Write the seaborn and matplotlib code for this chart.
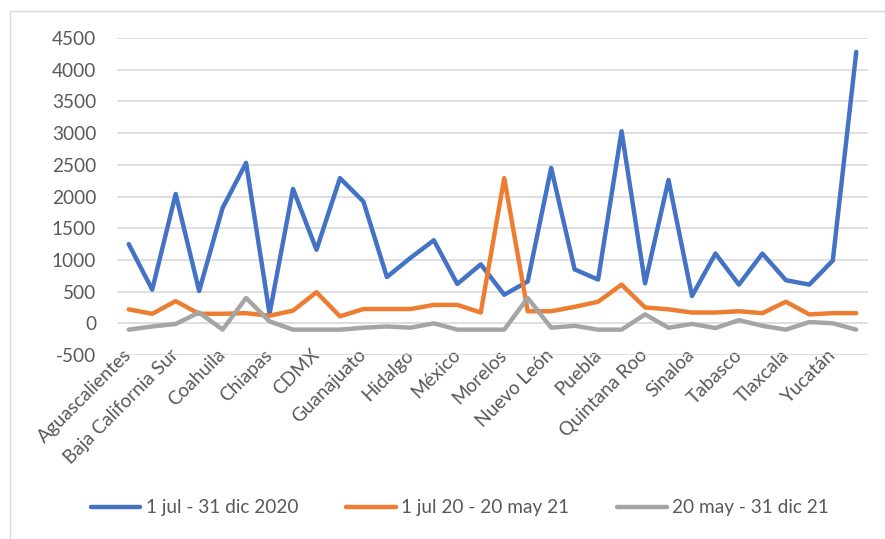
import matplotlib
matplotlib.use("Agg")
import matplotlib.pyplot as plt
from matplotlib.lines import Line2D
from matplotlib.patches import Rectangle
import seaborn as sns
import pandas as pd

states = ["Aguascalientes", "Baja California", "Baja California Sur", "Campeche",
          "Coahuila", "Colima", "Chiapas", "Chihuahua", "CDMX", "Durango",
          "Guanajuato", "Guerrero", "Hidalgo", "Jalisco", "México", "Michoacán",
          "Morelos", "Nayarit", "Nuevo León", "Oaxaca", "Puebla", "Querétaro",
          "Quintana Roo", "San Luis Potosí", "Sinaloa", "Sonora", "Tabasco",
          "Tamaulipas", "Tlaxcala", "Veracruz", "Yucatán", "Zacatecas"]

serie_2020 = [1250, 530, 2040, 510, 1820, 2530, 150, 2120, 1160, 2290,
              1920, 730, 1030, 1310, 620, 930, 450, 660, 2450, 850,
              690, 3030, 630, 2260, 430, 1100, 610, 1100, 680, 610,
              990, 4280]
serie_2021a = [220, 150, 350, 150, 150, 160, 120, 200, 490, 110,
               225, 225, 225, 290, 290, 170, 2290, 190, 190, 260,
               340, 610, 250, 220, 170, 170, 190, 160, 340, 140,
               160, 160]
serie_2021b = [-100, -50, -10, 170, -100, 400, 30, -100, -100, -100,
               -70, -50, -70, 0, -100, -100, -100, 400, -70, -40,
               -100, -100, 140, -70, -10, -75, 50, -40, -100, 20,
               0, -100]

series_names = ["1 jul - 31 dic 2020", "1 jul 20 - 20 may 21", "20 may - 31 dic 21"]
colors = ["#4472C4", "#ED7D31", "#A5A5A5"]
yticks = [-500, 0, 500, 1000, 1500, 2000, 2500, 3000, 3500, 4000, 4500]

df = pd.concat([
    pd.DataFrame({"estado": states, "valor": vals, "serie": name})
    for name, vals in zip(series_names, [serie_2020, serie_2021a, serie_2021b])
], ignore_index=True)

sns.set_theme(style="white")
plt.rcParams["font.family"] = ["Lato", "DejaVu Sans"]
fs = 13.7
tick_color = "#595959"

fig = plt.figure(figsize=(8.85, 5.39), dpi=100)
fig.patch.set_facecolor("white")
ax = fig.add_axes([117 / 885, 1 - 355 / 539, (868 - 117) / 885, (355 - 38) / 539])

sns.lineplot(data=df, x="estado", y="valor", hue="serie", palette=colors,
             sort=False, linewidth=3.2, legend=False, ax=ax)
for ln in ax.get_lines():
    ln.set_solid_capstyle("round")
    ln.set_solid_joinstyle("round")

ax.set_xlim(-0.5, len(states) - 0.5)
ax.set_ylim(-500, 4500)
ax.set_yticks(yticks)
ax.set_yticklabels([str(v) for v in yticks], fontsize=fs, color=tick_color)
ax.set_xticks(range(0, len(states), 2))
ax.set_xticklabels(states[::2], fontsize=fs, color=tick_color, rotation=45,
                   ha="right", va="center", rotation_mode="anchor")
ax.tick_params(axis="y", length=0, pad=15)
ax.tick_params(axis="x", length=0, pad=-2)
ax.set_xlabel("")
ax.set_ylabel("")
ax.yaxis.grid(True, color="#D9D9D9", linewidth=1.2)
ax.xaxis.grid(False)
ax.set_axisbelow(True)
for s in ax.spines.values():
    s.set_visible(False)

# outer chart border
fig.add_artist(Rectangle((9.5 / 885, -0.05), 1.2, 1 - 11 / 539 + 0.05,
                         transform=fig.transFigure, fill=False,
                         edgecolor="#D9D9D9", linewidth=1.0))

handles = [Line2D([0], [0], color=c, linewidth=3.2, solid_capstyle="round") for c in colors]
fig.legend(handles, series_names, loc="center", bbox_to_anchor=(460 / 885, 1 - 508 / 539),
           ncol=3, frameon=False, fontsize=fs, handlelength=2.6, handletextpad=0.3,
           columnspacing=2.5, labelcolor=tick_color)

fig.savefig("out.png", dpi=100)
